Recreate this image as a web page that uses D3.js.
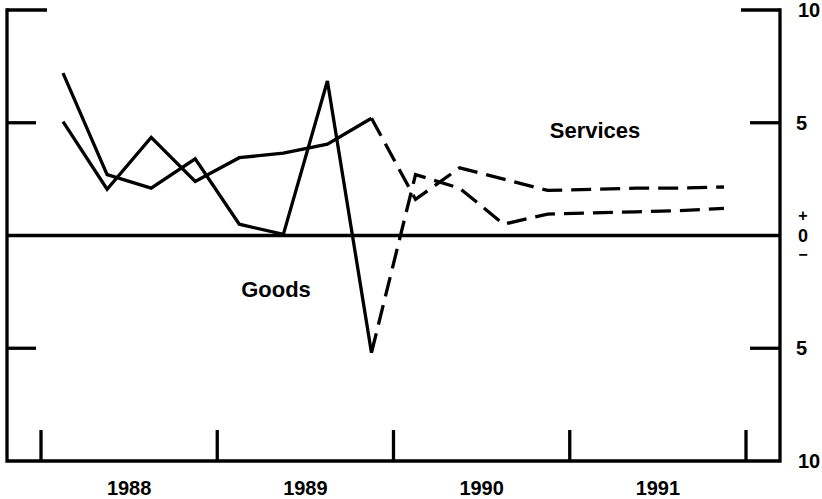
<!DOCTYPE html>
<html>
<head>
<meta charset="utf-8">
<script src="https://cdn.jsdelivr.net/npm/d3@7"></script>
<style>
  html, body { margin: 0; padding: 0; background: #fff; }
  svg { display: block; }
  text { font-family: "Liberation Sans", Arial, sans-serif; font-weight: bold; fill: #000; }
</style>
</head>
<body>
<svg id="chart" width="822" height="499"></svg>
<script>
// quarterly periods, 1988 Q1 .. 1991 Q4
const periods = ["1988Q1","1988Q2","1988Q3","1988Q4","1989Q1","1989Q2","1989Q3","1989Q4",
                 "1990Q1","1990Q2","1990Q3","1990Q4","1991Q1","1991Q2","1991Q3","1991Q4"]
const goods    = [7.2, 2.7, 2.1, 3.4, 0.5, 0.05, 6.85, -5.2, 2.7, 2.1, 0.5, 0.95, 1.0, 1.05, 1.1, 1.2]
const services = [5.05, 2.05, 4.35, 2.4, 3.45, 3.65, 4.05, 5.2, 1.6, 3.0, 2.5, 2.0, 2.05, 2.1, 2.1, 2.15]
const lastActual = "1989Q4"   // solid up to here, projection dashed after
const years = [1988, 1989, 1990, 1991]
const yearBounds = [1988, 1989, 1990, 1991, 1992]
const rightLabels = [{v: 10, t: "10"}, {v: 5, t: "5"}, {v: -5, t: "5"}, {v: -10, t: "10"}]

const svg = d3.select("#chart")
const frameL = 7, frameR = 780, frameT = 10, frameB = 461

const x = d3.scaleLinear().domain([1988, 1992]).range([41, 746])
const y = d3.scaleLinear().domain([-10, 10]).range([frameB, frameT])

const t = p => +p.slice(0, 4) + (+p.slice(5) - 0.5) / 4
const cut = periods.indexOf(lastActual)

const g = svg.append("g").attr("stroke", "#000").attr("stroke-width", 3.3).attr("fill", "none")

// frame: left, right, bottom
g.append("path").attr("d", `M${frameL},${frameT}V${frameB}H${frameR}V${frameT}`)
  .attr("stroke-linejoin", "miter").attr("stroke-linecap", "square")

// top ticks (10) and +-5 ticks
g.append("line").attr("x1", frameL).attr("x2", frameL + 40).attr("y1", y(10)).attr("y2", y(10))
g.append("line").attr("x1", frameR - 39).attr("x2", frameR).attr("y1", y(10)).attr("y2", y(10))
;[5, -5].forEach(v => {
  g.append("line").attr("x1", frameL).attr("x2", frameL + 29).attr("y1", y(v)).attr("y2", y(v))
  g.append("line").attr("x1", frameR - 30).attr("x2", frameR).attr("y1", y(v)).attr("y2", y(v))
})

// zero line
g.append("line").attr("x1", frameL).attr("x2", frameR).attr("y1", y(0)).attr("y2", y(0))

// year boundary ticks
g.selectAll("line.yt").data(yearBounds).join("line").attr("class", "yt")
  .attr("x1", d => x(d)).attr("x2", d => x(d)).attr("y1", frameB).attr("y2", frameB - 31)

// series
const line = d3.line().x(d => x(t(d.p))).y(d => y(d.v))
;[goods, services].forEach(s => {
  const pts = s.map((v, i) => ({p: periods[i], v}))
  g.append("path").attr("d", line(pts.slice(0, cut + 1))).attr("stroke-linejoin", "miter")
  g.append("path").attr("d", line(pts.slice(cut))).attr("stroke-dasharray", "20,9")
})

// year labels
svg.selectAll("text.yr").data(years).join("text").attr("class", "yr")
  .attr("x", d => x(d + 0.5)).attr("y", 495).attr("text-anchor", "middle")
  .attr("font-size", 20).text(d => d)

// right-hand scale labels
svg.selectAll("text.rl").data(rightLabels).join("text").attr("class", "rl")
  .attr("x", d => Math.abs(d.v) === 10 ? 798 : 796).attr("y", d => y(d.v) + 7)
  .attr("font-size", 20).text(d => d.t)
svg.append("text").attr("x", 803).attr("y", y(0) - 15).attr("text-anchor", "middle").attr("font-size", 16).text("+")
svg.append("text").attr("x", 803).attr("y", y(0) + 6.5).attr("text-anchor", "middle").attr("font-size", 18).text("0")
svg.append("text").attr("x", 803).attr("y", y(0) + 24.5).attr("text-anchor", "middle").attr("font-size", 16).text("\u2212")

// series labels
svg.append("text").attr("x", 595).attr("y", 138).attr("text-anchor", "middle").attr("font-size", 22).text("Services")
svg.append("text").attr("x", 276).attr("y", 297).attr("text-anchor", "middle").attr("font-size", 22).text("Goods")
</script>
</body>
</html>
